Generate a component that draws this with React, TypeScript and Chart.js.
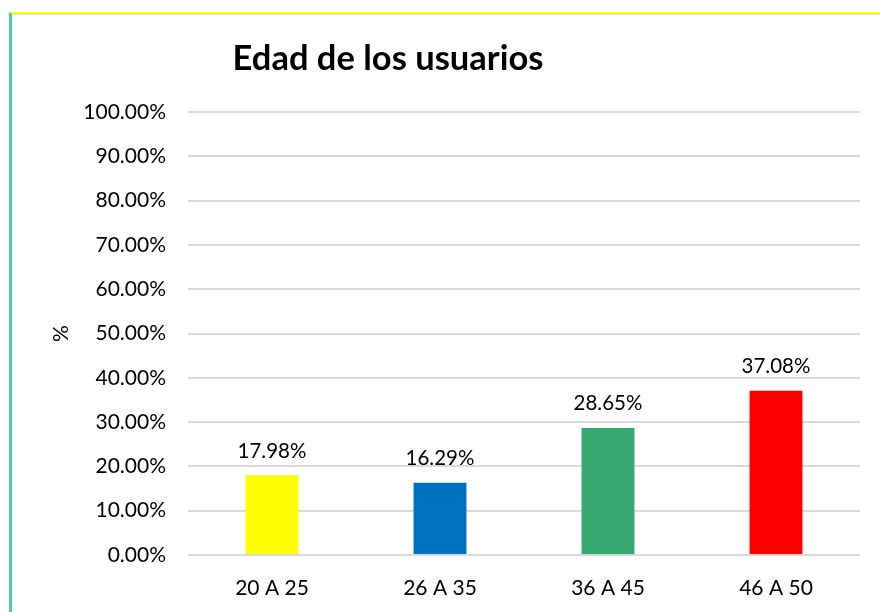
import React, { useEffect, useRef } from "react";
import { Chart, registerables } from "chart.js";

Chart.register(...registerables);

const categories = ["20 A 25", "26 A 35", "36 A 45", "46 A 50"];
const values = [17.98, 16.29, 28.65, 37.08];
const barColors = ["#FFFF00", "#0070C0", "#37A96E", "#FF0000"];
const titleText = "Edad de los usuarios";
const yAxisTitle = "%";

const FONT = "Lato, 'Open Sans', sans-serif";

const overlayPlugin = {
  id: "overlay",
  afterDatasetsDraw(chart: any) {
    const ctx = chart.ctx;
    const meta = chart.getDatasetMeta(0);
    ctx.save();
    ctx.fillStyle = "#000";
    ctx.font = `20.5px ${FONT}`;
    ctx.textAlign = "center";
    ctx.textBaseline = "bottom";
    meta.data.forEach((bar: any, i: number) => {
      ctx.fillText(values[i].toFixed(2) + "%", bar.x, bar.y - 14);
    });
    // title
    const area = chart.chartArea;
    ctx.font = `bold 34.5px ${FONT}`;
    ctx.textBaseline = "middle";
    ctx.fillText(titleText, area.left + 200, 59);
    // y axis title
    ctx.translate(61, (area.top + area.bottom) / 2);
    ctx.rotate(-Math.PI / 2);
    ctx.font = `21px ${FONT}`;
    ctx.fillText(yAxisTitle, 0, 0);
    ctx.restore();
  },
};

export default function App() {
  const ref = useRef<HTMLCanvasElement>(null);
  useEffect(() => {
    if (!ref.current) return;
    const chart = new Chart(ref.current, {
      type: "bar",
      data: {
        labels: categories,
        datasets: [
          {
            data: values,
            backgroundColor: barColors,
            barPercentage: 0.63,
            categoryPercentage: 0.5,
          },
        ],
      },
      options: {
        animation: false,
        responsive: false,
        layout: { padding: { left: 0, right: 20, top: 112, bottom: 0 } },
        plugins: {
          legend: { display: false },
          tooltip: { enabled: false },
          title: { display: false },
        },
        scales: {
          x: {
            grid: { display: false, drawTicks: false },
            border: { display: false },
            ticks: { color: "#000", font: { family: FONT, size: 21 }, padding: 21 },
            afterFit(scale: any) {
              scale.height = 57;
            },
          },
          y: {
            min: 0,
            max: 100,
            grid: { color: "#d9d9d9", lineWidth: 2, drawTicks: false },
            border: { display: false },
            ticks: {
              stepSize: 10,
              color: "#000",
              font: { family: FONT, size: 21 },
              padding: 22,
              callback: (v: any) => Number(v).toFixed(2) + "%",
            },
            afterFit(scale: any) {
              scale.width = 188;
            },
          },
        },
      },
      plugins: [overlayPlugin],
    });
    return () => chart.destroy();
  }, []);
  return (
    <div style={{ position: "fixed", left: 0, top: 0, width: 880, height: 612, background: "#fff" }}>
      <div
        style={{
          position: "absolute",
          left: 9,
          top: 12,
          width: 880,
          height: 620,
          borderLeft: "3px solid #4FC9A8",
          borderTop: "2px solid #FFFF00",
          boxShadow: "inset 0 1px 0 #BFEBDD",
        }}
      />
      <canvas ref={ref} width={880} height={612} style={{ position: "absolute", left: 0, top: 0 }} />
    </div>
  );
}
